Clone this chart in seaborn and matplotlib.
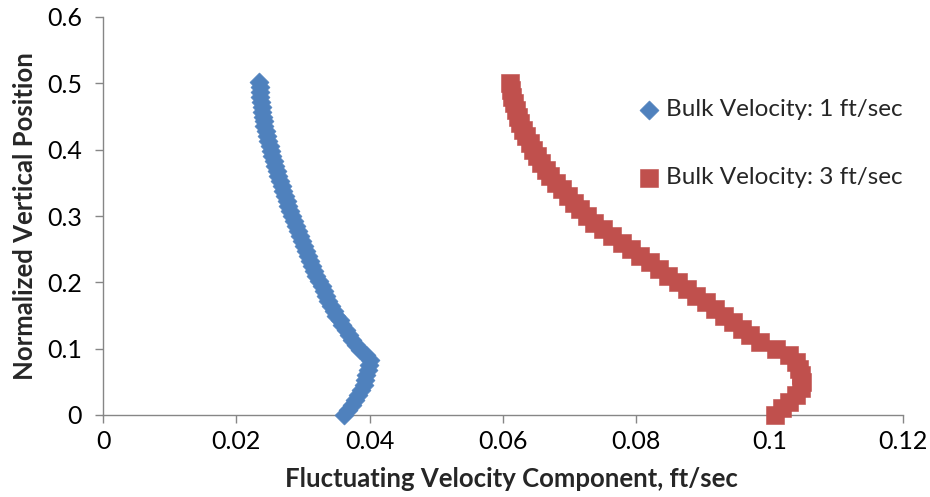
import matplotlib
matplotlib.use("Agg")
import matplotlib.pyplot as plt
import seaborn as sns
import pandas as pd

# ---- data ----
blue_label = "Bulk Velocity: 1 ft/sec"
red_label = "Bulk Velocity: 3 ft/sec"

blue_y = [0.0, 0.0075, 0.015, 0.0225, 0.03, 0.0375, 0.045, 0.0525, 0.06, 0.0675,
          0.075, 0.0825, 0.09, 0.0975, 0.105, 0.1125, 0.12, 0.1275, 0.135, 0.1425,
          0.15, 0.1575, 0.165, 0.1725, 0.18, 0.1875, 0.195, 0.2025, 0.21, 0.2175,
          0.225, 0.2325, 0.24, 0.2475, 0.255, 0.2625, 0.27, 0.2775, 0.285, 0.2925,
          0.30, 0.3075, 0.315, 0.3225, 0.33, 0.3375, 0.345, 0.3525, 0.36, 0.3675,
          0.375, 0.3825, 0.39, 0.3975, 0.405, 0.4125, 0.42, 0.4275, 0.435, 0.4425,
          0.45, 0.4575, 0.465, 0.4725, 0.48, 0.4875, 0.495, 0.5025]
blue_x = [0.0361, 0.0367, 0.0373, 0.0378, 0.0382, 0.0387, 0.0391, 0.0393, 0.0395, 0.0397,
          0.0399, 0.0400, 0.0394, 0.0386, 0.0379, 0.0374, 0.0369, 0.0364, 0.0359, 0.0355,
          0.0350, 0.0346, 0.0342, 0.0338, 0.0335, 0.0331, 0.0328, 0.0324, 0.0320, 0.0317,
          0.0313, 0.0310, 0.0307, 0.0304, 0.0301, 0.0298, 0.0295, 0.0292, 0.0289, 0.0286,
          0.0283, 0.0281, 0.0278, 0.0276, 0.0273, 0.0270, 0.0268, 0.0265, 0.0263, 0.0261,
          0.0258, 0.0256, 0.0254, 0.0252, 0.0250, 0.0248, 0.0246, 0.0244, 0.0242, 0.0241,
          0.0240, 0.0239, 0.0238, 0.0237, 0.0236, 0.0235, 0.0235, 0.0234]

red_y = [0.00, 0.01, 0.02, 0.03, 0.04, 0.05, 0.06, 0.07, 0.08, 0.09,
         0.10, 0.11, 0.12, 0.13, 0.14, 0.15, 0.16, 0.17, 0.18, 0.19,
         0.20, 0.21, 0.22, 0.23, 0.24, 0.25, 0.26, 0.27, 0.28, 0.29,
         0.30, 0.31, 0.32, 0.33, 0.34, 0.35, 0.36, 0.37, 0.38, 0.39,
         0.40, 0.41, 0.42, 0.43, 0.44, 0.45, 0.46, 0.47, 0.48, 0.49, 0.50]
red_x = [0.1008, 0.1018, 0.1029, 0.1039, 0.1047, 0.1049, 0.1047, 0.1044, 0.1040, 0.1029,
         0.1010, 0.0985, 0.0970, 0.0958, 0.0945, 0.0931, 0.0918, 0.0904, 0.0890, 0.0876,
         0.0862, 0.0848, 0.0834, 0.0820, 0.0806, 0.0792, 0.0778, 0.0764, 0.0750, 0.0737,
         0.0726, 0.0716, 0.0706, 0.0697, 0.0688, 0.0679, 0.0671, 0.0664, 0.0657, 0.0651,
         0.0645, 0.0640, 0.0635, 0.0630, 0.0626, 0.0622, 0.0619, 0.0616, 0.0614, 0.0612, 0.0611]

x_ticks = [0, 0.02, 0.04, 0.06, 0.08, 0.1, 0.12]
x_tick_labels = ["0", "0.02", "0.04", "0.06", "0.08", "0.1", "0.12"]
y_ticks = [0, 0.1, 0.2, 0.3, 0.4, 0.5, 0.6]
y_tick_labels = ["0", "0.1", "0.2", "0.3", "0.4", "0.5", "0.6"]

x_title = "Fluctuating Velocity Component, ft/sec"
y_title = "Normalized Vertical Position"

BLUE = "#4F81BD"
RED = "#C0504D"
GRAY = "#868686"

sns.set_theme(style="white")
plt.rcParams["font.family"] = ["Lato", "DejaVu Sans"]

df_blue = pd.DataFrame({"x": blue_x, "y": blue_y})
df_red = pd.DataFrame({"x": red_x, "y": red_y})

fig = plt.figure(figsize=(9.3, 4.97), dpi=100)
ax = fig.add_axes([103 / 930, 1 - 415 / 497, 800 / 930, 398 / 497])

sns.scatterplot(data=df_blue, x="x", y="y", ax=ax, marker="D", s=95,
                color=BLUE, edgecolor=BLUE, linewidth=0.4, label=blue_label,
                clip_on=False, zorder=3)
sns.scatterplot(data=df_red, x="x", y="y", ax=ax, marker="s", s=165,
                color=RED, edgecolor=RED, linewidth=0.4, label=red_label,
                clip_on=False, zorder=3)

ax.set_xlim(0, 0.12)
ax.set_ylim(0, 0.6)
ax.set_xticks(x_ticks)
ax.set_xticklabels(x_tick_labels)
ax.set_yticks(y_ticks)
ax.set_yticklabels(y_tick_labels)

for side in ["top", "right"]:
    ax.spines[side].set_visible(False)
for side in ["left", "bottom"]:
    ax.spines[side].set_color(GRAY)
    ax.spines[side].set_linewidth(1.0)

ax.tick_params(axis="both", which="major", direction="out", length=6, width=1.0,
               color=GRAY, labelsize=18, labelcolor="black")
ax.tick_params(axis="y", pad=9)
ax.tick_params(axis="x", pad=5)
ax.tick_params(bottom=True, left=True)

ax.set_xlabel(x_title, fontsize=18.5, fontweight="bold", labelpad=10)
ax.xaxis.label.set_x(0.511)
ax.set_ylabel(y_title, fontsize=18.5, fontweight="bold", labelpad=7)

leg = ax.legend(loc="upper left", bbox_to_anchor=(639 / 930, 1 - 99 / 497),
                bbox_transform=fig.transFigure, frameon=False, fontsize=17.5,
                handlelength=0.8, handletextpad=0.3, labelspacing=1.95,
                borderaxespad=0, borderpad=0, markerscale=1.0)

fig.savefig("out.png", dpi=100)
